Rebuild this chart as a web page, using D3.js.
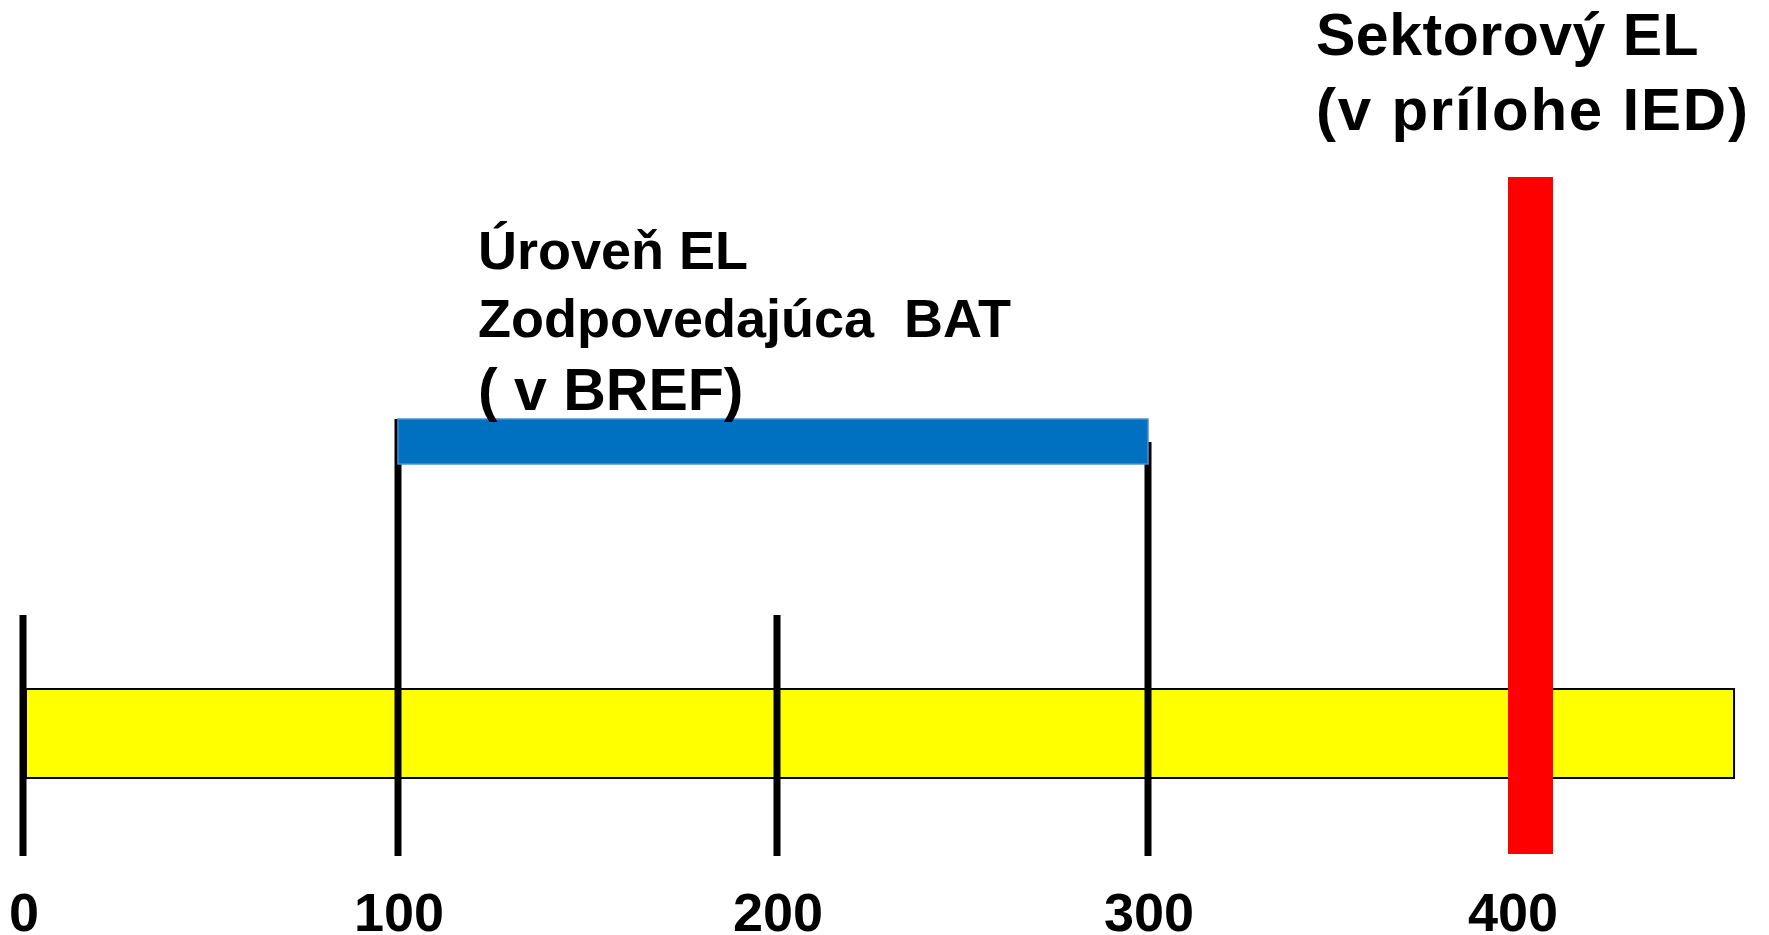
<html>
<head>
<meta charset="utf-8">
<title>EL</title>
<script src="https://d3js.org/d3.v7.min.js"></script>
<style>
body { margin: 0; background: #fff; }
svg { display: block; font-family: 'Liberation Sans', Arial, sans-serif; font-weight: bold; }
text { white-space: pre; }
</style>
</head>
<body>
<div id="chart"></div>
<script>

var width = 1769;
var height = 935;

// values along the axis
var tickValues = [0, 100, 200, 300, 400];
var lineTicks = [0, 100, 200, 300];
var axisEnd = 461;

// BAT range (blue bar) and sector EL (red bar)
var batRange = [100, 300];
var sectorValue = 400;

var batLabel = ["Úroveň EL", "Zodpovedajúca  BAT", "( v BREF)"];
var sectorLabel = ["Sektorový EL", "(v prílohe IED)"];

var svg = d3.select("#chart")
  .append("svg")
  .attr("width", width)
  .attr("height", height);

// hand drawn axis: spacing is not quite even
var x = d3.scaleLinear()
  .domain(tickValues)
  .range([23, 398, 777, 1148, 1512]);

var bandTop = 689;
var bandBottom = 778;
var tickTop = 615;
var tickBottom = 856;
var blueTop = 419;
var blueHeight = 45;

// yellow band
svg.append("rect")
  .attr("x", x(0) + 3)
  .attr("y", bandTop)
  .attr("width", x(axisEnd) - x(0) - 3)
  .attr("height", bandBottom - bandTop)
  .style("fill", "#ffff00")
  .style("stroke", "#000")
  .style("stroke-width", 2);

// black ticks
svg.selectAll("line.tick")
  .data(lineTicks)
  .enter()
  .append("line")
  .attr("class", "tick")
  .attr("x1", d => x(d))
  .attr("x2", d => x(d))
  .attr("y1", function(d) {
    if (d == batRange[0]) return blueTop;
    if (d == batRange[1]) return blueTop + 23;
    return tickTop;
  })
  .attr("y2", tickBottom)
  .style("stroke", "#000")
  .style("stroke-width", 7);

// blue BAT bar
svg.append("rect")
  .attr("x", x(batRange[0]))
  .attr("y", blueTop)
  .attr("width", x(batRange[1]) - x(batRange[0]))
  .attr("height", blueHeight)
  .style("fill", "#0070c0")
  .style("stroke", "#4a8fd8")
  .style("stroke-width", 1.5);

// red sector bar
svg.append("rect")
  .attr("x", x(sectorValue) - 4)
  .attr("y", 177)
  .attr("width", 45)
  .attr("height", tickBottom - 2 - 177)
  .style("fill", "#ff0000");

// tick labels
svg.selectAll("text.label")
  .data(tickValues)
  .enter()
  .append("text")
  .attr("class", "label")
  .attr("x", d => x(d) + 1)
  .attr("y", 931)
  .attr("text-anchor", "middle")
  .style("font-size", "54px")
  .text(d => d);

// BAT label
var batX = x(batRange[0]) + 80;
var batY = [269, 337, 410];
svg.selectAll("text.bat")
  .data(batLabel)
  .enter()
  .append("text")
  .attr("class", "bat")
  .attr("x", batX)
  .attr("y", (d, i) => batY[i])
  .style("font-size", (d, i) => i == 2 ? "59px" : "54px")
  .text(d => d);

// sector label
var secX = x(sectorValue) - 196;
var secY = [55, 130];
svg.selectAll("text.sector")
  .data(sectorLabel)
  .enter()
  .append("text")
  .attr("class", "sector")
  .attr("x", secX)
  .attr("y", (d, i) => secY[i])
  .style("font-size", (d, i) => i == 0 ? "59px" : "60px")
  .style("letter-spacing", (d, i) => i == 0 ? "0.5px" : "1.8px")
  .text(d => d);

</script>
</body>
</html>
